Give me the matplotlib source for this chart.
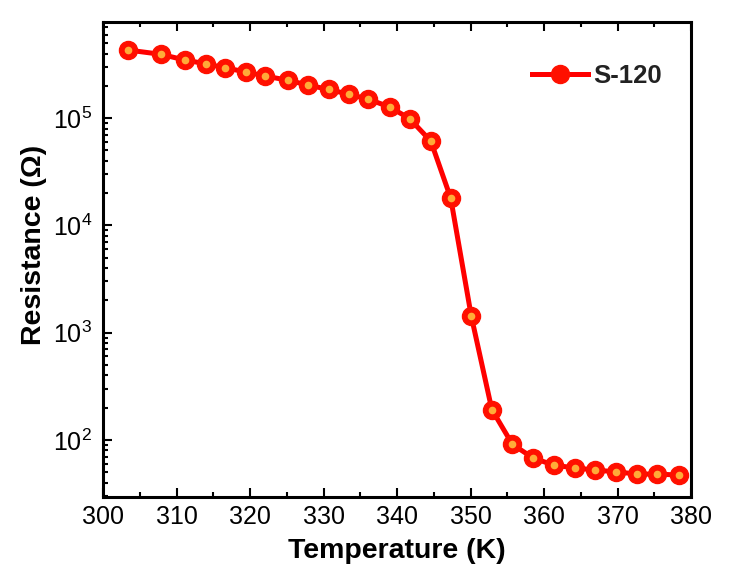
import matplotlib
matplotlib.use("Agg")
import matplotlib.pyplot as plt
from matplotlib.ticker import MultipleLocator, LogLocator, NullFormatter

plt.rcParams['font.family'] = ['Liberation Sans', 'DejaVu Sans']
plt.rcParams['mathtext.fontset'] = 'custom'
plt.rcParams['mathtext.rm'] = 'Liberation Sans'

# temperatura (K) i otpor (Ohm) ocitani sa slike
temperatura = [303.4, 307.9, 311.2, 314.0, 316.6, 319.4, 322.1, 325.1, 327.9,
               330.7, 333.4, 336.1, 339.0, 341.7, 344.6, 347.3, 350.1, 352.9,
               355.7, 358.5, 361.4, 364.2, 366.9, 369.8, 372.6, 375.4, 378.3]
otpor = [4.31e5, 3.93e5, 3.47e5, 3.21e5, 2.94e5, 2.70e5, 2.46e5, 2.26e5, 2.03e5,
         1.85e5, 1.67e5, 1.50e5, 1.27e5, 9.9e4, 6.1e4, 1.8e4, 1.43e3, 192,
         91, 68, 58, 55, 52.4, 50.5, 48.1, 48.1, 47.1]
oznaka = "S-120"

fig = plt.figure(figsize=(7.53, 5.8), dpi=100)
ax = fig.add_axes([0.1368, 0.1431, 0.7809, 0.8189])

ax.plot(temperatura, otpor, color='#ff0000', lw=3.6, marker='o', ms=13,
        mfc='#ff1000', mec='#ff1000', label=oznaka)
ax.plot(temperatura, otpor, ls='none', marker='o', ms=5.5, mfc='#ffb43c',
        mec='none', alpha=0.95)

ax.set_yscale('log')
ax.set_xlim(300, 380)
ax.set_ylim(29.4, 7.86e5)

ax.xaxis.set_major_locator(MultipleLocator(10))
ax.xaxis.set_minor_locator(MultipleLocator(5))
ax.yaxis.set_major_locator(LogLocator(base=10, numticks=10))
ax.yaxis.set_minor_locator(LogLocator(base=10, subs=range(2, 10), numticks=20))
ax.yaxis.set_minor_formatter(NullFormatter())

ax.tick_params(which='both', direction='in', top=True, right=False, width=1.5)
ax.tick_params(which='major', length=6.5, labelsize=18, pad=6)
ax.tick_params(which='minor', length=3.5)
ax.tick_params(axis='y', which='major', pad=8)
for s in ax.spines.values():
    s.set_linewidth(2.2)

ax.set_xlabel("Temperature (K)", fontsize=20.5, fontweight='bold', labelpad=6)
ax.set_ylabel("Resistance (Ω)", fontsize=20.5, fontweight='bold', labelpad=4)
ax.yaxis.label.set_y(0.53)

leg = ax.legend(loc='upper right', frameon=False,
                prop={'size': 18.5, 'weight': 'bold'},
                handlelength=2.2, handletextpad=0.2,
                bbox_to_anchor=(0.99, 0.96))
for t in leg.get_texts():
    t.set_color('#222222')

fig.savefig("out.png", dpi=100)
